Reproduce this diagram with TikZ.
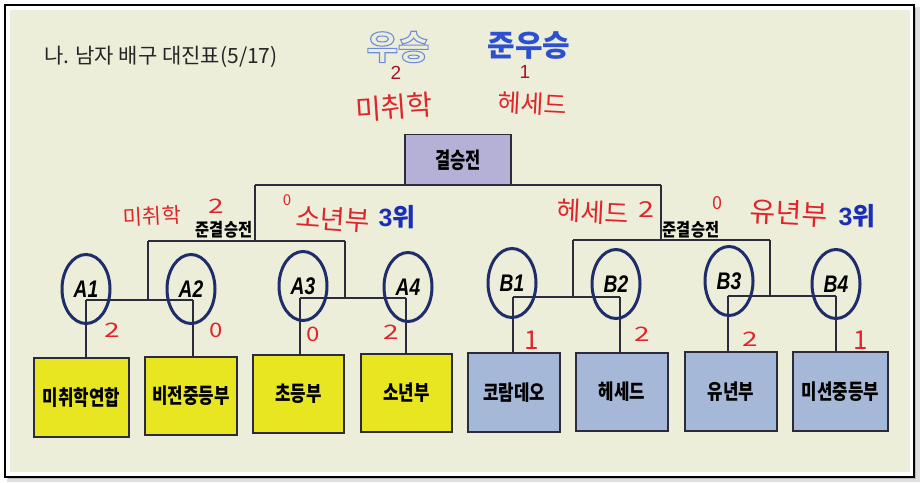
\documentclass[tikz,border=0pt]{standalone}
\usepackage{fontspec}
\setmainfont{Liberation Sans}
\newfontfamily\kr{Noto Sans CJK KR}
\newfontfamily\krc[FakeStretch=0.8]{Noto Sans CJK KR}
\newfontfamily\krf[FakeStretch=0.75]{Noto Sans CJK KR}
\newfontfamily\krs[FakeStretch=0.85]{Noto Sans CJK KR}
\newfontfamily\labfont[FakeStretch=0.8]{Liberation Sans}
\definecolor{paper}{HTML}{ECEEDA}
\definecolor{yellowbox}{HTML}{E8E620}
\definecolor{bluebox}{HTML}{A6B8D8}
\definecolor{lavender}{HTML}{B5B1D6}
\definecolor{navy}{HTML}{1F2D6B}
\definecolor{linec}{HTML}{2B2B3B}
\definecolor{redhand}{HTML}{E0242C}
\definecolor{darkred}{HTML}{A3142C}
\definecolor{blueT}{HTML}{2D4FD0}
\definecolor{blueO}{HTML}{6F8CD8}
\definecolor{blue3}{HTML}{1A2FB5}
\newcommand\fs[1]{\fontsize{#1}{#1}\selectfont}
% outlined text: stroke only (text render mode 1)
\newcommand\hollowtext[1]{\special{pdf:literal direct 1 Tr 1.1 w}#1\special{pdf:literal direct 0 Tr 1 w}}
\usetikzlibrary{shapes.geometric}
\tikzset{
  x=1pt, y=-1pt,
  teambox/.style={draw=linec, line width=1.8pt, minimum width=92pt, minimum height=78pt, inner sep=0pt, font=\krc\bfseries\fs{21}},
  ybox/.style={teambox, fill=yellowbox},
  bbox/.style={teambox, fill=bluebox},
  slot/.style={ellipse, draw=navy, line width=3pt, minimum width=48pt, minimum height=69pt, inner sep=0pt},
  slotlab/.style={font=\labfont\bfseries\itshape\fs{24}, inner sep=0pt},
  conn/.style={draw=linec, line width=1.6pt},
  hand/.style={text=redhand, font=\kr\fs{#1}, inner sep=0pt},
  hand/.default=22,
  semi/.style={font=\krs\bfseries\fs{18}, inner sep=0pt},
  third/.style={text=blue3, font=\bfseries\fs{25}, inner sep=0pt},
  score/.style={text=darkred, font=\fs{19}, inner sep=0pt},
  wintext/.style={text=blueO, font=\kr\bfseries\fs{34}, inner sep=0pt}
}
\begin{document}
\begin{tikzpicture}
\useasboundingbox (0,0) rectangle (920,482);
% frame and shadow
\fill[gray!25] (7,7) rectangle (920,482);
\fill[gray!55] (8,8) rectangle (916,479);
\fill[white] (4,4) rectangle (914,477);
\draw[black, line width=1.8pt] (5,5) rectangle (914,477);
\fill[paper] (10,10) rectangle (910,472);

% title
\node[anchor=west, font=\kr\fs{21}, text=black!85, inner sep=0pt] (title) at (44,57) {나. 남자 배구 대진표(5/17)};

% winners header
\node[wintext] (win) at (398,47) {\hollowtext{우승}};
\node[text=blueT, font=\kr\bfseries\fs{30}, inner sep=0pt] (runner) at (529,46) {준우승};
\node[score] (s2) at (396,73) {2};
\node[score] (s1) at (525,72) {1};
\node[hand=28, rotate=4] (hw1) at (394,107) {미취학};
\node[hand=25, rotate=-3] (hw2) at (532,104) {헤세드};

% final box
\node[draw=linec, line width=1.8pt, fill=lavender, minimum width=106pt, minimum height=51pt, inner sep=0pt, font=\krf\bfseries\fs{22}] (final) at (458,160) {결승전};

% bracket coordinates
\coordinate (FL) at (255,185);
\coordinate (FR) at (661,185);
\coordinate (SL) at (255,241);
\coordinate (SR) at (661,240);
\coordinate (sa1) at (148,241);
\coordinate (sa2) at (345,241);
\coordinate (sb1) at (573,240);
\coordinate (sb2) at (770,240);
\coordinate (ja1) at (86,300);
\coordinate (ja2) at (193,300);
\coordinate (ja3) at (300,298);
\coordinate (ja4) at (406,298);
\coordinate (jb1) at (513,297);
\coordinate (jb2) at (620,297);
\coordinate (jb3) at (728,296);
\coordinate (jb4) at (836,296);

% team boxes
\node[ybox, minimum width=95pt, minimum height=79pt] (t1) at (81.5,397.5) {미취학연합};
\node[ybox] (t2) at (191,396) {비전중등부};
\node[ybox, minimum width=91pt] (t3) at (298.5,394) {초등부};
\node[ybox, minimum width=91pt] (t4) at (406.5,393) {소년부};
\node[bbox, minimum height=79pt] (t5) at (514,392.5) {코람데오};
\node[bbox] (t6) at (622,392) {헤세드};
\node[bbox, minimum height=79pt] (t7) at (731,391.5) {유년부};
\node[bbox, minimum width=95pt, minimum height=79pt] (t8) at (840.5,391.5) {미션중등부};

% connectors
\draw[conn] (FL) -- (FR);
\draw[conn] (FL) -- (SL);
\draw[conn] (FR) -- (SR);
\draw[conn] (sa1) -- (sa2);
\draw[conn] (sb1) -- (sb2);
\draw[conn] (sa1) -- (sa1 |- ja1);
\draw[conn] (sa2) -- (sa2 |- ja3);
\draw[conn] (sb1) -- (sb1 |- jb1);
\draw[conn] (sb2) -- (sb2 |- jb3);
\draw[conn] (ja1) -- (ja2);
\draw[conn] (ja3) -- (ja4);
\draw[conn] (jb1) -- (jb2);
\draw[conn] (jb3) -- (jb4);
\draw[conn] (ja1) -- (ja1 |- t1.north);
\draw[conn] (ja2) -- (ja2 |- t2.north);
\draw[conn] (ja3) -- (ja3 |- t3.north);
\draw[conn] (ja4) -- (ja4 |- t4.north);
\draw[conn] (jb1) -- (jb1 |- t5.north);
\draw[conn] (jb2) -- (jb2 |- t6.north);
\draw[conn] (jb3) -- (jb3 |- t7.north);
\draw[conn] (jb4) -- (jb4 |- t8.north);

% slots
\node[slot] (A1) at (86,289) {};
\node[slot] (A2) at (191,289) {};
\node[slot] (A3) at (303,286) {};
\node[slot] (A4) at (408,287) {};
\node[slot] (B1) at (512,283) {};
\node[slot] (B2) at (616,284) {};
\node[slot] (B3) at (729,281) {};
\node[slot] (B4) at (836,284) {};
\node[slotlab] (lA1) at (A1.center) {A1};
\node[slotlab] (lA2) at (A2.center) {A2};
\node[slotlab] (lA3) at (A3.center) {A3};
\node[slotlab] (lA4) at (A4.center) {A4};
\node[slotlab] (lB1) at (B1.center) {B1};
\node[slotlab] (lB2) at (B2.center) {B2};
\node[slotlab] (lB3) at (B3.center) {B3};
\node[slotlab] (lB4) at (B4.center) {B4};

% semifinal labels
\node[semi] (semiL) at (224,230) {준결승전};
\node[semi] (semiR) at (691,230) {준결승전};

% handwritten semifinal results
\node[hand=21, rotate=3] (hl1) at (152,216) {미취학};
\node[hand=20, xscale=1.4] (hl2) at (216,206) {2};
\node[hand=15] (hl3) at (287,200) {0};
\node[hand=27, rotate=-4] (hl4) at (333,219) {소년부};
\node[third] (th1) at (397,217) {3{\kr 위}};
\node[hand=26, rotate=-3] (hr1) at (593,212) {헤세드};
\node[hand=22, xscale=1.3] (hr2) at (646,210) {2};
\node[hand=18] (hr3) at (717,203) {0};
\node[hand=28, rotate=-3] (hr4) at (789,213) {유년부};
\node[third] (th2) at (857,216) {3{\kr 위}};

% handwritten scores
\node[hand=20, xscale=1.4] (ca1) at (112,330) {2};
\node[hand=20, xscale=1.2] (ca2) at (216,330) {0};
\node[hand=20, xscale=1.2] (ca3) at (313,334) {0};
\node[hand=20, xscale=1.4] (ca4) at (391,332) {2};
\node[hand=26] (cb1) at (532,340) {1};
\node[hand=20, xscale=1.4] (cb2) at (642,334) {2};
\node[hand=20, xscale=1.4] (cb3) at (750,339) {2};
\node[hand=26] (cb4) at (861,340) {1};
\end{tikzpicture}
\end{document}
